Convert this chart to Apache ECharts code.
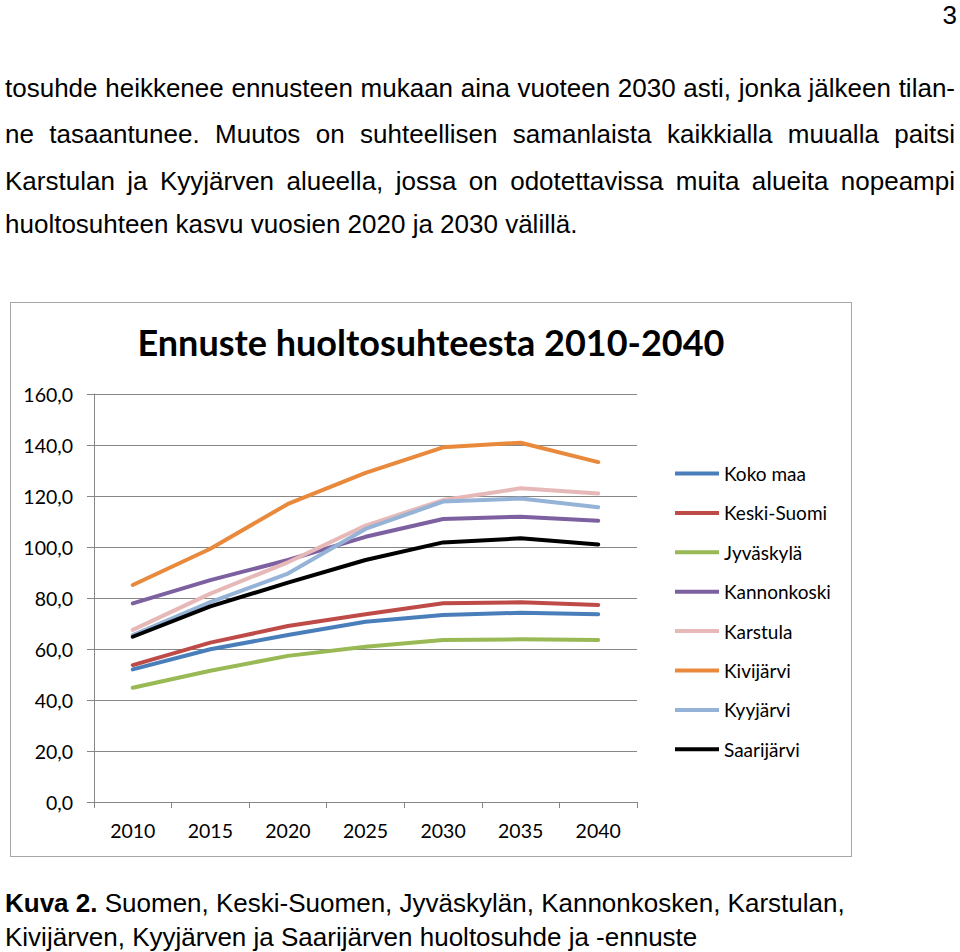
<!DOCTYPE html>
<html><head><meta charset="utf-8">
<script src="https://cdn.jsdelivr.net/npm/echarts@6/dist/echarts.min.js"></script>
<style>
html,body{margin:0;padding:0;background:#fff;}
body{width:960px;height:952px;position:relative;overflow:hidden;font-family:"Liberation Sans",Arial,sans-serif;color:#000;}
.ln{position:absolute;left:5px;width:950px;height:40px;line-height:40px;font-size:26px;white-space:nowrap;}
.j{text-align:justify;text-align-last:justify;}
#box{position:absolute;left:10px;top:302px;width:840px;height:553px;border:1px solid #a6a6a6;}
#chart{position:absolute;left:0;top:0;width:840px;height:553px;}
</style></head>
<body>
<div class="ln" style="top:-5px;left:auto;right:3px;width:auto;">3</div>
<div class="ln j" style="top:68px;">tosuhde heikkenee ennusteen mukaan aina vuoteen 2030 asti, jonka jälkeen tilan-</div>
<div class="ln j" style="top:114px;">ne tasaantunee. Muutos on suhteellisen samanlaista kaikkialla muualla paitsi</div>
<div class="ln j" style="top:161px;">Karstulan ja Kyyjärven alueella, jossa on odotettavissa muita alueita nopeampi</div>
<div class="ln" style="top:204px;">huoltosuhteen kasvu vuosien 2020 ja 2030 välillä.</div>
<div id="box"><div id="chart"></div></div>
<div class="ln" style="top:883px;"><b>Kuva 2.</b> Suomen, Keski-Suomen, Jyväskylän, Kannonkosken, Karstulan,</div>
<div class="ln" style="top:917px;">Kivijärven, Kyyjärven ja Saarijärven huoltosuhde ja -ennuste</div>
<script>
var years = ['2010','2015','2020','2025','2030','2035','2040'];
var yTicks = [0,20,40,60,80,100,120,140,160];
var kokoMaa     = [52.0, 59.9, 65.5, 70.7, 73.3, 74.2, 73.6];
var keskiSuomi  = [53.7, 62.5, 69.0, 73.6, 77.9, 78.3, 77.3];
var jyvaskyla   = [44.8, 51.5, 57.3, 60.9, 63.5, 63.8, 63.5];
var kannonkoski = [77.9, 87.0, 94.9, 104.0, 111.0, 111.9, 110.3];
var karstula    = [67.5, 81.7, 94.0, 108.4, 118.4, 123.0, 121.0];
var kivijarvi   = [85.1, 99.3, 116.9, 129.1, 139.1, 140.9, 133.3];
var kyyjarvi    = [65.5, 78.4, 89.6, 107.1, 117.8, 119.0, 115.6];
var saarijarvi  = [64.8, 76.7, 86.0, 94.9, 101.8, 103.4, 101.0];
var seriesNames = ['Koko maa','Keski-Suomi','Jyväskylä','Kannonkoski','Karstula','Kivijärvi','Kyyjärvi','Saarijärvi'];
var seriesData = [kokoMaa, keskiSuomi, jyvaskyla, kannonkoski, karstula, kivijarvi, kyyjarvi, saarijarvi];
var colors = ['#4a7ebb','#be4b48','#98b954','#7d60a0','#e6b9b8','#e8893c','#95b3d7','#000000'];

var chart = echarts.init(document.getElementById('chart'), null, {renderer:'svg'});
var font = 'Lato, "Open Sans", sans-serif';
chart.setOption({
  animation:false,
  title:{text:'Ennuste huoltosuhteesta 2010-2040', left:'center', top:16,
    textStyle:{fontFamily:font, fontWeight:'bold', fontSize:36, color:'#000'}},
  legend:{orient:'vertical', left:659, top:156, itemWidth:44, itemHeight:20, itemGap:20.4,
    data:seriesNames.map(function(n,i){return {name:n, icon:'path://M0,8 L44,8 L44,12 L0,12 Z', itemStyle:{color:colors[i]}};}),
    textStyle:{fontFamily:font, fontSize:19, color:'#000', padding:[0,0,0,0]}},
  grid:{left:83, top:91, width:543, height:408, containLabel:false},
  xAxis:{type:'category', data:years, boundaryGap:true,
    axisLine:{lineStyle:{color:'#868686', width:1}},
    axisTick:{show:true, alignWithLabel:false, length:6, lineStyle:{color:'#868686'}},
    axisLabel:{fontFamily:font, fontSize:19.5, color:'#000', margin:18}},
  yAxis:{type:'value', min:yTicks[0], max:yTicks[yTicks.length-1], interval:20,
    axisLine:{show:true, lineStyle:{color:'#868686', width:1}},
    axisTick:{show:true, length:7, lineStyle:{color:'#868686'}},
    splitLine:{show:true, lineStyle:{color:'#868686', width:1}},
    axisLabel:{fontFamily:font, fontSize:19.5, color:'#000', margin:21,
      formatter:function(v){return v.toFixed(1).replace('.',',');}}},
  series:seriesNames.map(function(n,i){
    return {name:n, type:'line', data:seriesData[i], symbol:'none', showSymbol:false,
      lineStyle:{color:colors[i], width:4, cap:'round', join:'round'}, itemStyle:{color:colors[i]}};
  })
});
</script>
</body></html>
